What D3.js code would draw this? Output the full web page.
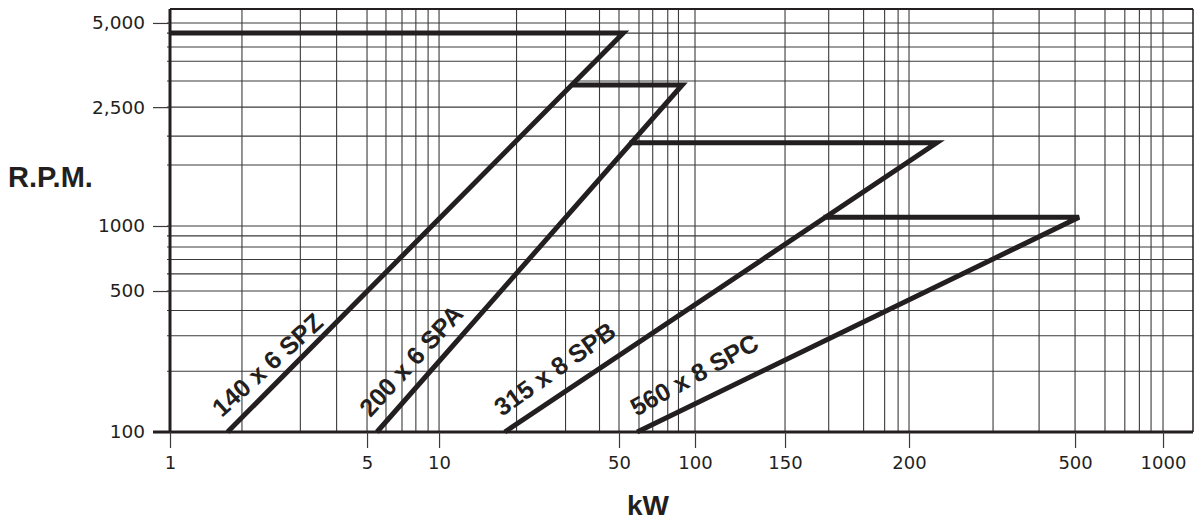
<!DOCTYPE html>
<html>
<head>
<meta charset="UTF-8">
<title>R.P.M. versus kW</title>
<script src="https://cdnjs.cloudflare.com/ajax/libs/d3/7.8.5/d3.min.js"></script>
<style>
  body { margin: 0; background: #fff; }
  svg text { fill: #231f20; }
  .tick-label { font-family: "DejaVu Sans", sans-serif; }
  .title, .belt-label { font-family: "Liberation Sans", Arial, sans-serif; font-weight: bold; }
</style>
</head>
<body>
<div id="chart"></div>
<script>
// Axis ticks as printed
const xTicks = [1, 5, 10, 50, 100, 150, 200, 500, 1000];
const xTickLabels = ["1", "5", "10", "50", "100", "150", "200", "500", "1000"];
const yTicks = [100, 500, 1000, 2500, 5000];
const yTickLabels = ["100", "500", "1000", "2,500", "5,000"];

// Grid lines
const xGrid = [1.8, 2.9, 3.9, 5, 6, 7, 8, 9, 10, 20, 31, 42, 50, 60, 68, 78, 86, 100,
               150, 166, 180, 189, 195, 200, 318, 410, 500, 633, 740, 830, 910, 1000];
const yGrid = [200, 300, 400, 500, 600, 700, 800, 900, 1000, 1600, 2000, 2500,
               3100, 3650, 4100, 4600, 5000];

// Belt curves: [start of flat, end of flat (peak), bottom]
const beltNames = ["140 x 6 SPZ", "200 x 6 SPA", "315 x 8 SPB", "560 x 8 SPC"];
const beltKw  = [[1, 52, 1.6], [33, 89, 5.5], [55, 233, 18], [164, 516, 59]];
const beltRpm = [[4600, 4600, 100], [3000, 3000, 100], [1900, 1900, 100], [1070, 1070, 100]];

// The printed axes are not evenly logarithmic: where each tick sits (fraction of plot)
const xTickPos = [0, 0.1926, 0.2630, 0.4389, 0.5132, 0.6012, 0.7224, 0.8847, 0.9707];
const yTickPos = [0, 0.3333, 0.487, 0.768, 0.967];
// labels are hand-set, a little off the line slope (degrees)
const labelTilt = [3, 1, -1.5, -3];

const W = 1194, H = 523;
const margin = {top: 9, right: 1, bottom: 91, left: 170},
      width = W - margin.left - margin.right,
      height = H - margin.top - margin.bottom;

const svg = d3.select("#chart").append("svg")
    .attr("width", W).attr("height", H)
  .append("g")
    .attr("transform", `translate(${margin.left},${margin.top})`);

const x = d3.scaleLog().domain(xTicks).range(xTickPos.map(f => f * width));
const y = d3.scaleLog().domain(yTicks).range(yTickPos.map(f => height - f * height));

const ink = "#231f20";

// grid
svg.append("g").selectAll("line").data(xGrid).join("line")
    .attr("x1", d => x(d)).attr("x2", d => x(d))
    .attr("y1", 0).attr("y2", height)
    .attr("stroke", "#3a3a3a").attr("stroke-width", 1.1);
svg.append("g").selectAll("line").data(yGrid).join("line")
    .attr("x1", -3).attr("x2", width)
    .attr("y1", d => y(d)).attr("y2", d => y(d))
    .attr("stroke", "#3a3a3a").attr("stroke-width", 1.1);

// frame
svg.append("line").attr("x1", 0).attr("x2", width).attr("y1", 0).attr("y2", 0)
    .attr("stroke", ink).attr("stroke-width", 2.2);
svg.append("line").attr("x1", width).attr("x2", width).attr("y1", 0).attr("y2", height)
    .attr("stroke", ink).attr("stroke-width", 1.5);

// y axis
const yAxis = svg.append("g")
    .call(d3.axisLeft(y).tickValues(yTicks)
      .tickFormat((d, i) => yTickLabels[i]).tickSize(17).tickPadding(8));
yAxis.select(".domain").attr("stroke", ink).attr("stroke-width", 3)
    .attr("d", `M0,0V${height}`);
yAxis.selectAll(".tick line").attr("stroke", "#3a3a3a").attr("stroke-width", 1.2);
yAxis.selectAll(".tick text").attr("class", "tick-label")
    .style("font-size", "18.5px").attr("fill", "#333");

// x axis
const xAxis = svg.append("g")
    .attr("transform", `translate(0,${height})`)
    .call(d3.axisBottom(x).tickValues(xTicks)
      .tickFormat((d, i) => xTickLabels[i]).tickSize(16).tickPadding(8));
xAxis.select(".domain").attr("stroke", ink).attr("stroke-width", 3)
    .attr("d", `M-17,0H${width}`);
xAxis.selectAll(".tick line").attr("stroke", "#3a3a3a").attr("stroke-width", 1.2);
xAxis.selectAll(".tick text").attr("class", "tick-label")
    .style("font-size", "18px").attr("fill", "#333");

// axis titles
svg.append("text").attr("class", "title")
    .attr("x", 8 - margin.left).attr("y", 187 - margin.top)
    .style("font-size", "29px").text("R.P.M.");
svg.append("text").attr("class", "title")
    .attr("x", 648 - margin.left).attr("y", 515 - margin.top)
    .attr("text-anchor", "middle")
    .style("font-size", "28px").text("kW");

// belt curves
const line = d3.line().x(d => x(d[0])).y(d => y(d[1]));
beltNames.forEach((name, i) => {
  const pts = beltKw[i].map((k, j) => [k, beltRpm[i][j]]);
  svg.append("path")
      .attr("d", line(pts))
      .attr("fill", "none").attr("stroke", ink)
      .attr("stroke-width", 5).attr("stroke-linejoin", "miter");

  // label along the slanted part
  const p0 = [x(pts[2][0]), y(pts[2][1])], p1 = [x(pts[1][0]), y(pts[1][1])];
  const len = Math.hypot(p1[0] - p0[0], p1[1] - p0[1]);
  const ux = (p1[0] - p0[0]) / len, uy = (p1[1] - p0[1]) / len;
  const nx = uy, ny = -ux;
  const s = 6, g = 14;
  const tx = p0[0] + ux * s + nx * g, ty = p0[1] + uy * s + ny * g;
  const ang = Math.atan2(uy, ux) * 180 / Math.PI + labelTilt[i];
  svg.append("text").attr("class", "belt-label")
      .attr("transform", `translate(${tx},${ty}) rotate(${ang})`)
      .style("font-size", "25px").text(name);
});
</script>
</body>
</html>
